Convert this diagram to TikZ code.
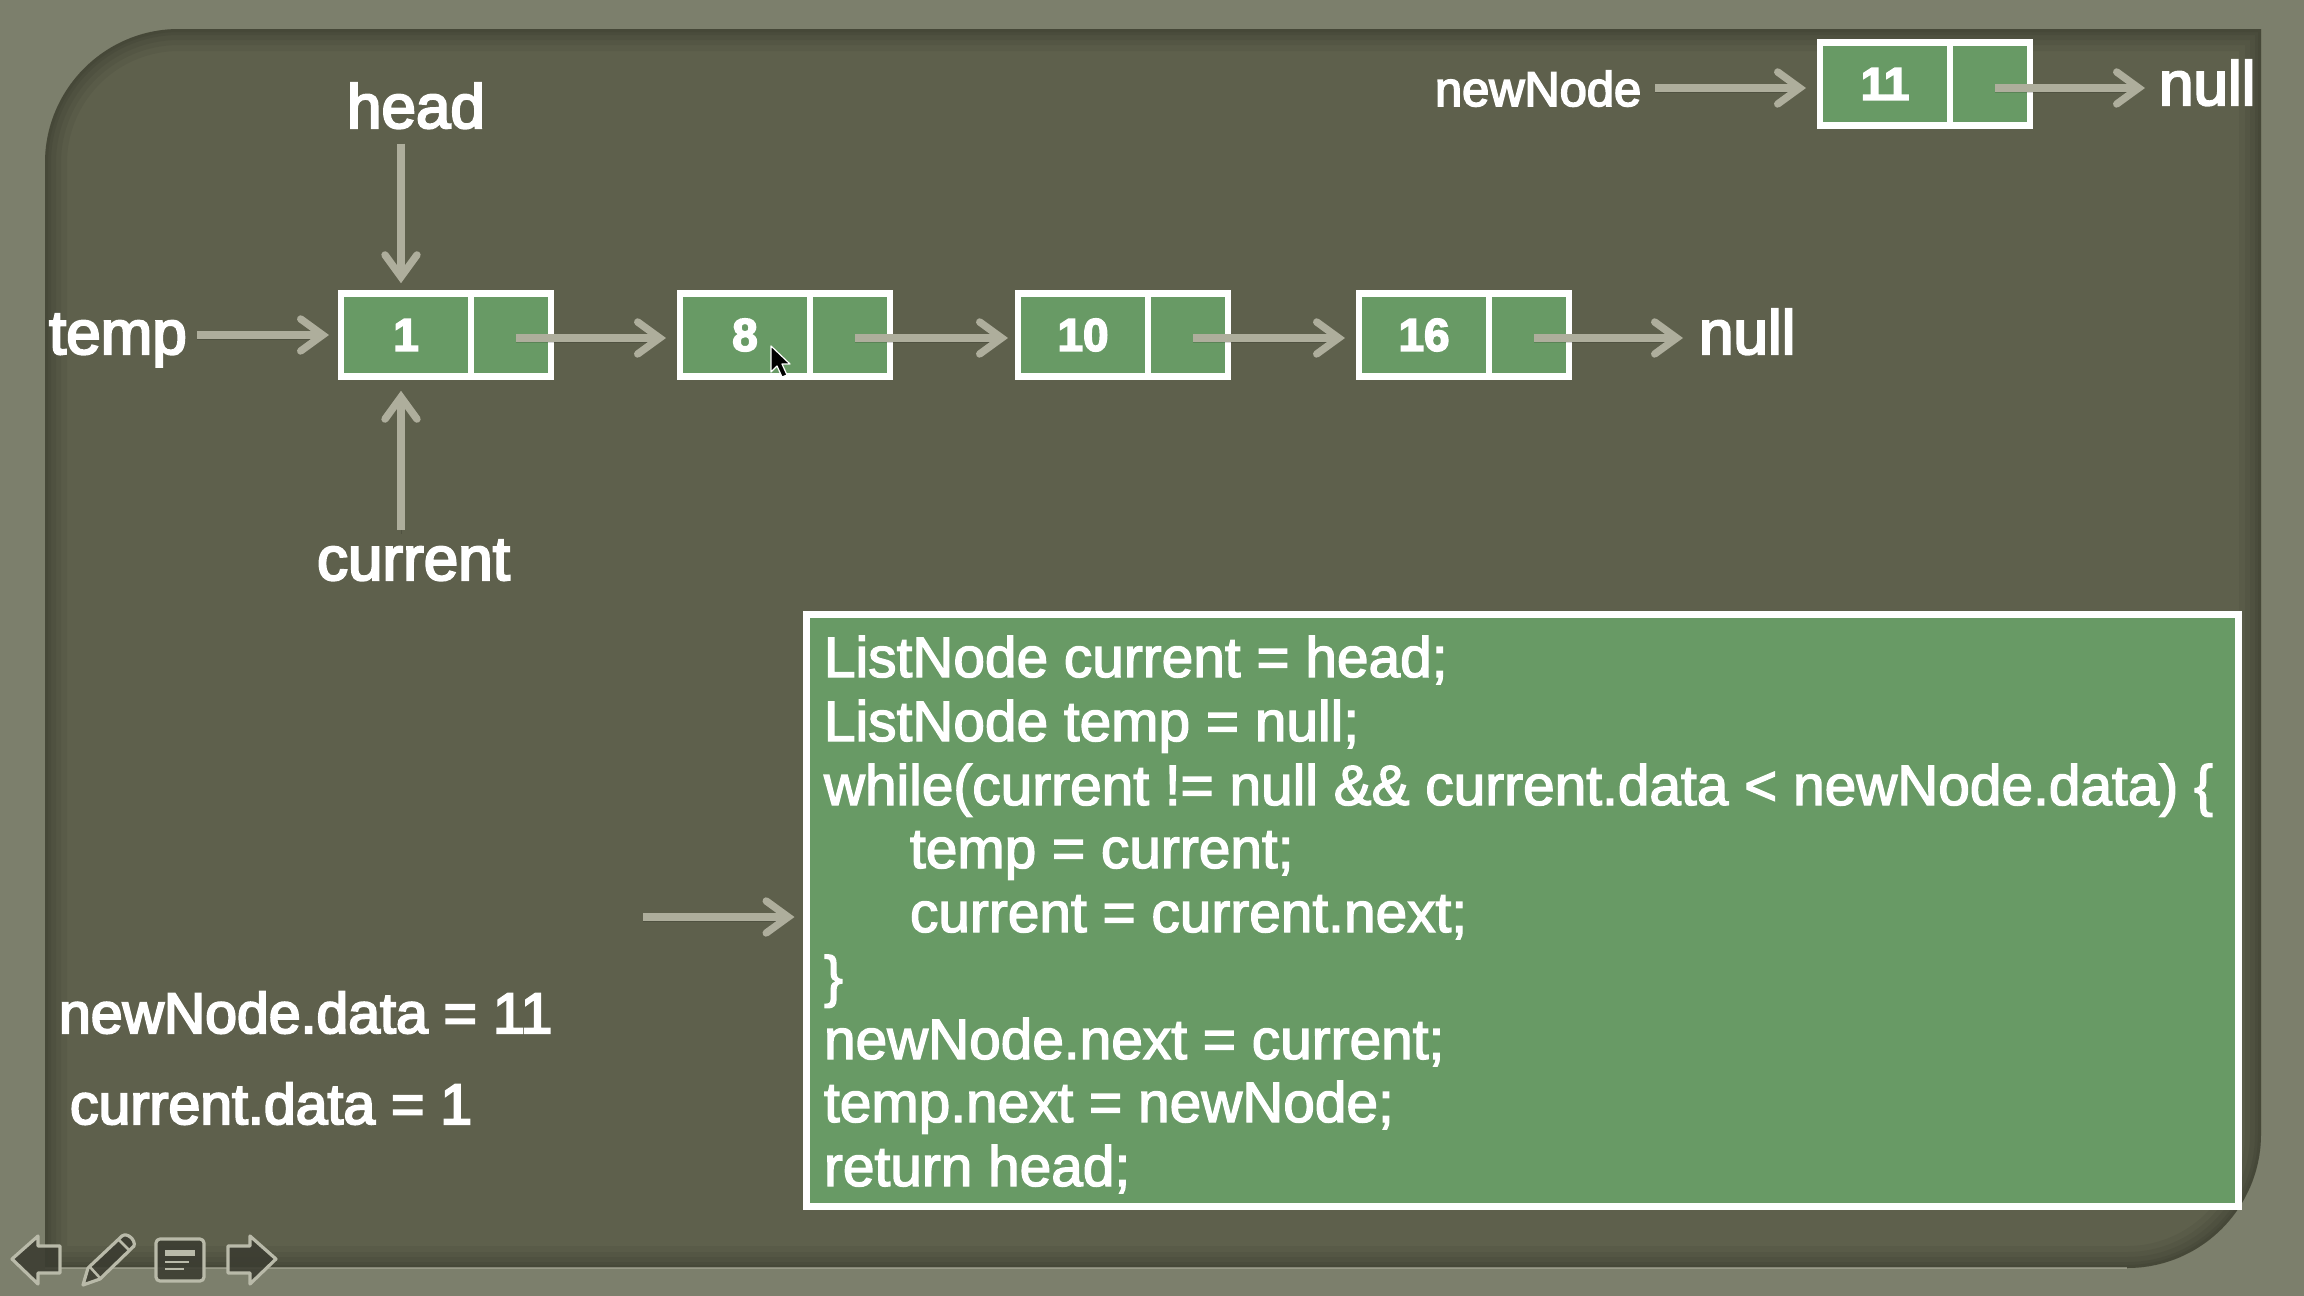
\documentclass[tikz,border=0pt]{standalone}
\usepackage{fontspec}
\setmainfont{Liberation Sans}
\newfontfamily\lab{Liberation Sans}[FakeBold=3.5]
\newfontfamily\codefont{Liberation Sans}[FakeBold=2.4]
\usetikzlibrary{arrows.meta,calc}
\definecolor{outerbg}{HTML}{7C7F6C}
\definecolor{panelbg}{HTML}{5E604C}
\definecolor{cellgreen}{HTML}{689A65}
\definecolor{arrowgrey}{HTML}{AEAE9C}
\definecolor{icondark}{HTML}{3C3D32}
\definecolor{iconline}{HTML}{B9BAA9}
\tikzset{
  x=0.5pt,y=-0.5pt,
  cell/.style={draw=white,fill=cellgreen,line width=3.4pt,inner sep=0pt,outer sep=0pt,minimum height=41.8pt,text=white,font=\lab\fontsize{23}{23}\selectfont},
  lbl/.style={inner sep=0pt,outer sep=0pt,anchor=base west,text=white,font=\lab\fontsize{31}{31}\selectfont},
  lblsmall/.style={lbl,font=\lab\fontsize{24.4}{24.4}\selectfont},
  codeline/.style={inner sep=0pt,outer sep=0pt,anchor=base west,text=white,font=\codefont\fontsize{28.4}{28.4}\selectfont},
  arr/.style={draw=arrowgrey,line width=3.7pt,-{Straight Barb[length=11pt,width=16pt,line cap=round]},
    preaction={draw=black,draw opacity=.14,transform canvas={yshift=-2pt}}},
  icon/.style={fill=icondark,fill opacity=.9,draw=iconline,line width=1.6pt,line join=round},
}
\def\panelpath{(45,163) .. controls (45,89) and (105,29) .. (179,29) -- (2261,29) -- (2261,1134) .. controls (2261,1208) and (2201,1268) .. (2127,1268) -- (45,1268) -- cycle}
\begin{document}
\begin{tikzpicture}
\useasboundingbox (0,0) rectangle (2304,1296);
\fill[outerbg] (0,0) rectangle (2304,1296);
% panel
\fill[panelbg] \panelpath;
\begin{scope}
  \clip \panelpath;
  \foreach \w in {44,32,22,12,6}{
    \draw[black,opacity=.05,line width=\w*0.5pt] \panelpath;
  }
\end{scope}
\draw[iconline,opacity=.55,line width=.8pt] (45,1268) -- (2127,1268);
% list cells
\node[cell,minimum width=65pt] (v1) at (406,335) {\bfseries 1};
\node[cell,minimum width=40pt] (p1) at (511,335) {};
\node[cell,minimum width=65pt] (v2) at (745,335) {\bfseries 8};
\node[cell,minimum width=40pt] (p2) at (850,335) {};
\node[cell,minimum width=65pt] (v3) at (1083,335) {\bfseries 10};
\node[cell,minimum width=40pt] (p3) at (1188,335) {};
\node[cell,minimum width=65pt] (v4) at (1424,335) {\bfseries 16};
\node[cell,minimum width=40pt] (p4) at (1529,335) {};
\node[cell,minimum width=65pt] (v5) at (1885,84) {\bfseries 11};
\node[cell,minimum width=40pt] (p5) at (1990,84) {};
% labels
\node[lbl] (head) at (347,128) {head};
\node[lbl] (temp) at (49,354) {temp};
\node[lbl] (current) at (317,580) {current};
\node[lbl] (null1) at (1699,354) {null};
\node[lbl] (null2) at (2159,105) {null};
\node[lblsmall] (newnode) at (1435,106) {newNode};
\node[lbl,font=\lab\fontsize{28.6}{28.6}\selectfont] (nd) at (59,1033) {newNode.data = 11};
\node[lbl,font=\lab\fontsize{28.6}{28.6}\selectfont] (cd) at (70,1124) {current.data = 1};
% code box
\node[draw=white,fill=cellgreen,line width=3.5pt,inner sep=0pt,outer sep=0pt,minimum width=716pt,minimum height=296pt,anchor=north west] (code) at (806.5,614.5) {};
\node[codeline] (c1) at (824,677) {ListNode current = head;};
\node[codeline] (c2) at (824,741) {ListNode temp = null;};
\node[codeline] (c3) at (824,805) {while(current != null \&\& current.data < newNode.data) \{};
\node[codeline] (c4) at (910,868) {temp = current;};
\node[codeline] (c5) at (910,932) {current = current.next;};
\node[codeline] (c6) at (824,996) {\}};
\node[codeline] (c7) at (824,1059) {newNode.next = current;};
\node[codeline] (c8) at (824,1122) {temp.next = newNode;};
\node[codeline] (c9) at (824,1186) {return head;};
% connectors
\coordinate (hx) at ([xshift=-2.5pt]v1.north);
\coordinate (py) at ([yshift=-1.5pt]v1.center);
\coordinate (ty) at ([yshift=0pt]v1.center);
\draw[arr] ([yshift=-7.5pt]head.south -| hx) -- ([yshift=5pt]hx);
\draw[arr] ([xshift=5pt]temp.east |- ty) -- ([xshift=-6pt]v1.west |- ty);
\coordinate (curtop) at ([xshift=-2.5pt,yshift=-7pt]v1.south);
\draw[arr] ([yshift=5pt]current.north -| curtop) -- (curtop);
\draw[arr] ([xshift=2.5pt]p1.center |- py) -- ([xshift=-7pt]v2.west |- py);
\draw[arr] ([xshift=2.5pt]p2.center |- py) -- ([xshift=-5pt]v3.west |- py);
\draw[arr] ([xshift=2.5pt]p3.center |- py) -- ([xshift=-7pt]v4.west |- py);
\draw[arr] ([xshift=2.5pt]p4.center |- py) -- ([xshift=-8pt]null1.west |- py);
\coordinate (py2) at ([yshift=-2pt]v5.center);
\draw[arr] ([xshift=2.5pt]p5.center |- py2) -- ([xshift=-7pt]null2.west |- py2);
\draw[arr] ([xshift=7pt]newnode.east |- py2) -- ([xshift=-7pt]v5.west |- py2);
\coordinate (codefree) at (643,917);
\draw[arr] (codefree) -- ([xshift=-6pt]code.west |- codefree);
% cursor
\fill[black,draw=white,line width=.6pt,line join=round] (771,346) -- (771,372) -- (777,366) -- (782,377) -- (787,375) -- (782,364) -- (790,364) -- cycle;
% icons
\draw[icon] (12,1259) -- (38,1236) -- (38,1246) -- (60,1246) -- (60,1273) -- (38,1273) -- (38,1284) -- cycle;
\draw[icon] (83,1285) -- (88,1268) -- (122,1236) .. controls (127,1232) and (136,1240) .. (134,1246) -- (100,1279) -- cycle;
\draw[iconline,line width=1.3pt] (90,1267) -- (100,1278) (119,1240) -- (129,1250);
\draw[icon,rounded corners=2pt] (156,1239) rectangle (204,1281);
\draw[iconline,line width=3pt] (165,1253) -- (195,1253);
\draw[iconline,line width=1.2pt] (165,1262) -- (189,1262) (165,1269) -- (184,1269);
\draw[icon] (276,1259) -- (250,1236) -- (250,1246) -- (228,1246) -- (228,1273) -- (250,1273) -- (250,1284) -- cycle;
\end{tikzpicture}
\end{document}
